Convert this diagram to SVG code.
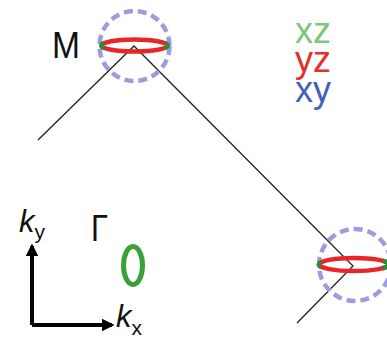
<svg xmlns="http://www.w3.org/2000/svg" width="387" height="339" viewBox="0 0 387 339">
<defs>
<style>
.lbl{font-family:"Liberation Sans",Arial,sans-serif;font-size:36px;fill:#111}
.leg{font-family:"Liberation Sans",Arial,sans-serif;font-size:36px}
.k{font-family:"Liberation Sans",Arial,sans-serif;font-style:italic;fill:#111}
.sub{font-style:normal}
.bz{fill:none;stroke:#222;stroke-width:1.3}
.dash{fill:none;stroke:#9d9ddb;stroke-width:4.5;stroke-dasharray:9 5}
.red{fill:none;stroke:#e8262a;stroke-width:4.5}
.grn{fill:none;stroke:#2e8b3a;stroke-width:5}
.axis{fill:none;stroke:#000;stroke-width:4}
</style>
<marker id="ah" viewBox="0 0 10 10" refX="8" refY="5" markerWidth="3.2" markerHeight="3.2" orient="auto" markerUnits="strokeWidth">
<path d="M0,0 L10,5 L0,10 z" fill="#000"/>
</marker>
<clipPath id="cTop"><rect x="95" y="30" width="9" height="30"/><rect x="165" y="30" width="10" height="30"/></clipPath>
<clipPath id="cRight"><rect x="312" y="250" width="9" height="30"/><rect x="383" y="250" width="10" height="30"/></clipPath>
</defs>
<g id="connectors">
<path class="bz" d="M38,140 L134,46 L353,266 L297,323"/>
</g>
<g id="M-point">
<circle class="dash" cx="134.5" cy="46" r="35"/>
<ellipse class="red" cx="134.5" cy="45.5" rx="33" ry="6"/>
<ellipse class="grn" cx="134.5" cy="45.5" rx="33" ry="6" clip-path="url(#cTop)"/>
<text class="lbl" x="52" y="58" textLength="28" lengthAdjust="spacingAndGlyphs">M</text>
</g>
<g id="M-point-right">
<circle class="dash" cx="355" cy="265" r="36"/>
<ellipse class="red" cx="354" cy="264.5" rx="35" ry="6.5"/>
<ellipse class="grn" cx="354" cy="264.5" rx="35" ry="6.5" clip-path="url(#cRight)"/>
</g>
<g id="gamma">
<text class="lbl" x="91" y="241" textLength="17" lengthAdjust="spacingAndGlyphs">Γ</text>
<ellipse cx="133" cy="265.5" rx="9.5" ry="19" fill="none" stroke="#3aa03a" stroke-width="5"/>
</g>
<g id="legend">
<text class="leg"><tspan x="295" y="43" fill="#7dc67d">xz</tspan><tspan x="295" y="72" fill="#e03030">yz</tspan><tspan x="295" y="102" fill="#4462b4">xy</tspan></text>
</g>
<g id="axes">
<path class="axis" d="M32,325 L32,246" marker-end="url(#ah)"/>
<path class="axis" d="M32,325 L112,325" marker-end="url(#ah)"/>
<text class="k" x="19" y="232" font-size="31">k<tspan class="sub" font-size="21" dy="7">y</tspan></text>
<text class="k" x="116" y="327" font-size="31">k<tspan class="sub" font-size="21" dy="8">x</tspan></text>
</g>
</svg>
